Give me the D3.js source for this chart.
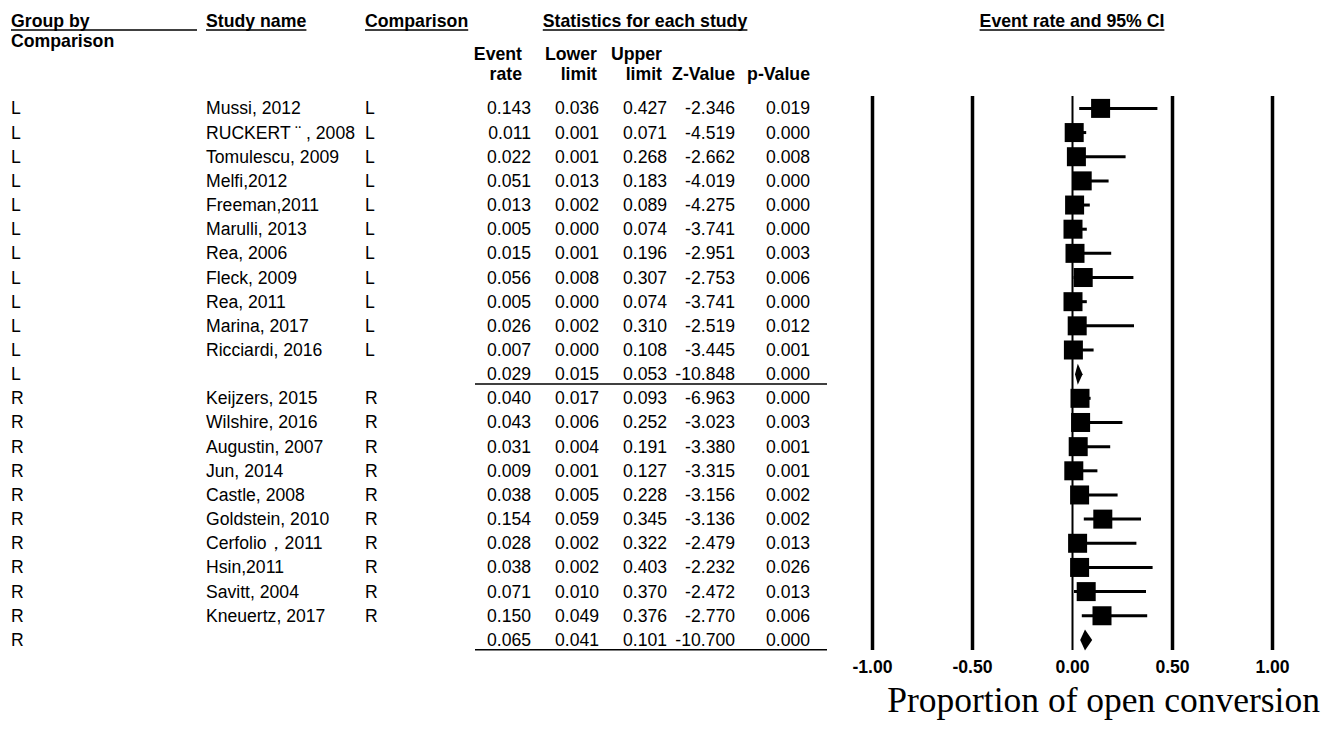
<html>
<head>
  <style>
    body { margin: 0; background: #fff; }
    text { font-family: Arial, "Liberation Sans", sans-serif; fill: #000; }
    .hdr { font-weight: bold; font-size: 17.7px; }
    .cell { font-size: 17.6px; }
    .tick text { font-weight: bold; font-size: 17.6px; font-family: Arial, "Liberation Sans", sans-serif; }
  </style>
  <script src="https://d3js.org/d3.v7.min.js"></script>
</head>
<body>
<svg id="chart" width="1333" height="730"></svg>
<script type="text/javascript">

// data
var groups = ["L","L","L","L","L","L","L","L","L","L","L","L",
              "R","R","R","R","R","R","R","R","R","R","R"];
var studyNames = ["Mussi, 2012","RUCKERT \u00a8 , 2008","Tomulescu, 2009","Melfi,2012","Freeman,2011",
                  "Marulli, 2013","Rea, 2006","Fleck, 2009","Rea, 2011","Marina, 2017","Ricciardi, 2016","",
                  "Keijzers, 2015","Wilshire, 2016","Augustin, 2007","Jun, 2014","Castle, 2008",
                  "Goldstein, 2010","Cerfolio\uff0c2011","Hsin,2011","Savitt, 2004","Kneuertz, 2017",""];
var comparison = ["L","L","L","L","L","L","L","L","L","L","L","",
                  "R","R","R","R","R","R","R","R","R","R",""];
var isSummary = [0,0,0,0,0,0,0,0,0,0,0,1, 0,0,0,0,0,0,0,0,0,0,1];
var eventRate = [0.143,0.011,0.022,0.051,0.013,0.005,0.015,0.056,0.005,0.026,0.007,0.029,
                 0.040,0.043,0.031,0.009,0.038,0.154,0.028,0.038,0.071,0.150,0.065];
var lowerLimit = [0.036,0.001,0.001,0.013,0.002,0.000,0.001,0.008,0.000,0.002,0.000,0.015,
                  0.017,0.006,0.004,0.001,0.005,0.059,0.002,0.002,0.010,0.049,0.041];
var upperLimit = [0.427,0.071,0.268,0.183,0.089,0.074,0.196,0.307,0.074,0.310,0.108,0.053,
                  0.093,0.252,0.191,0.127,0.228,0.345,0.322,0.403,0.370,0.376,0.101];
var zValue = [-2.346,-4.519,-2.662,-4.019,-4.275,-3.741,-2.951,-2.753,-3.741,-2.519,-3.445,-10.848,
              -6.963,-3.023,-3.380,-3.315,-3.156,-3.136,-2.479,-2.232,-2.472,-2.770,-10.700];
var pValue = [0.019,0.000,0.008,0.000,0.000,0.000,0.003,0.006,0.000,0.012,0.001,0.000,
              0.000,0.003,0.001,0.001,0.002,0.002,0.013,0.026,0.013,0.006,0.000];
var axisTicks = [-1, -0.5, 0, 0.5, 1];

var svg = d3.select("#chart");
var n = groups.length;

var x = d3.scaleLinear().domain([-1, 1]).range([872, 1272]);
var y = d3.scaleLinear().domain([0, n - 1]).range([108.4, 108.4 + 24.16 * (n - 1)]);
var plotTop = 96, plotBottom = 650;

// headers (underlined)
function header(label, xpos, ypos, anchor, ulFrom, ulTo) {
  var t = svg.append("text").attr("class", "hdr")
    .attr("x", xpos).attr("y", ypos).attr("text-anchor", anchor || "start").text(label);
  var bb = t.node().getBBox();
  svg.append("line")
    .attr("x1", ulFrom != null ? ulFrom : bb.x)
    .attr("x2", ulTo != null ? ulTo : bb.x + bb.width)
    .attr("y1", ypos + 3).attr("y2", ypos + 3)
    .attr("stroke", "#000").attr("stroke-width", 1.5);
}
header("Group by", 11, 27, "start", 11, 197);
svg.append("text").attr("class", "hdr").attr("x", 11).attr("y", 47).text("Comparison");
header("Study name", 206, 27);
header("Comparison", 365, 27);
header("Statistics for each study", 645, 27, "middle");
header("Event rate and 95% CI", 1072, 27, "middle");

// column headers
var colRight = [531, 599, 667, 735, 810];
var hdrRight = [522, 597, 662, 735, 810];
var colTop = ["Event", "Lower", "Upper", "", ""];
var colBot = ["rate", "limit", "limit", "Z-Value", "p-Value"];
colTop.forEach(function(t, i) {
  if (t) {
    svg.append("text").attr("class", "hdr").attr("text-anchor", "end")
      .attr("x", hdrRight[i]).attr("y", 59.5).text(t);
  }
  svg.append("text").attr("class", "hdr").attr("text-anchor", "end")
    .attr("x", hdrRight[i]).attr("y", 80).text(colBot[i]);
});

// table rows
var rows = svg.append("g").selectAll("g.row")
  .data(d3.range(n)).enter().append("g").attr("class", "row")
  .attr("transform", function(i) { return "translate(0," + (y(i) + 6) + ")"; });

rows.append("text").attr("class", "cell").attr("x", 11).text(function(i) { return groups[i]; });
rows.append("text").attr("class", "cell").attr("x", 206).text(function(i) { return studyNames[i]; });
rows.append("text").attr("class", "cell").attr("x", 365).text(function(i) { return comparison[i]; });

var cols = [eventRate, lowerLimit, upperLimit, zValue, pValue];
cols.forEach(function(arr, c) {
  rows.append("text").attr("class", "cell").attr("text-anchor", "end")
    .attr("x", colRight[c])
    .text(function(i) { return arr[i].toFixed(3); });
});

// lines under summary rows
d3.range(n).filter(function(i) { return isSummary[i]; }).forEach(function(i) {
  svg.append("line").attr("x1", 475).attr("x2", 827)
    .attr("y1", y(i) + 9.8).attr("y2", y(i) + 9.8)
    .attr("stroke", "#000").attr("stroke-width", 1.5);
});

// axis with full height tick lines
var axis = d3.axisBottom(x).tickValues(axisTicks)
  .tickSize(-(plotBottom - plotTop)).tickPadding(11)
  .tickFormat(function(d) { return d.toFixed(2); });
var ag = svg.append("g").attr("transform", "translate(0," + plotBottom + ")").call(axis);
ag.select(".domain").remove();
ag.selectAll(".tick line").attr("stroke", "#000")
  .attr("stroke-width", function(d) { return d === 0 ? 2 : 3.5; });
ag.selectAll(".tick text").attr("fill", "#000");

// CI lines and squares
var plot = svg.append("g");
var studyIdx = d3.range(n).filter(function(i) { return !isSummary[i]; });
var sumIdx = d3.range(n).filter(function(i) { return isSummary[i]; });
var sq = 19;

plot.selectAll("line.ci").data(studyIdx).enter().append("line").attr("class", "ci")
  .attr("x1", function(i) { return x(lowerLimit[i]); })
  .attr("x2", function(i) { return x(upperLimit[i]); })
  .attr("y1", function(i) { return y(i); })
  .attr("y2", function(i) { return y(i); })
  .attr("stroke", "#000").attr("stroke-width", 3);

plot.selectAll("rect.pt").data(studyIdx).enter().append("rect").attr("class", "pt")
  .attr("x", function(i) { return x(eventRate[i]) - sq / 2; })
  .attr("y", function(i) { return y(i) - sq / 2; })
  .attr("width", sq).attr("height", sq).attr("fill", "#000");

plot.selectAll("path.dia").data(sumIdx).enter().append("path").attr("class", "dia")
  .attr("d", function(i) {
    var h = 10.5, cy = y(i);
    return "M" + x(lowerLimit[i]) + "," + cy + "L" + x(eventRate[i]) + "," + (cy - h) +
           "L" + x(upperLimit[i]) + "," + cy + "L" + x(eventRate[i]) + "," + (cy + h) + "Z";
  })
  .attr("fill", "#000");

// axis title
svg.append("text").attr("x", 1320).attr("y", 712).attr("text-anchor", "end")
  .style("font-family", "'Times New Roman', 'Liberation Serif', serif")
  .style("font-size", "35.5px")
  .text("Proportion of open conversion");
</script>
</body>
</html>
